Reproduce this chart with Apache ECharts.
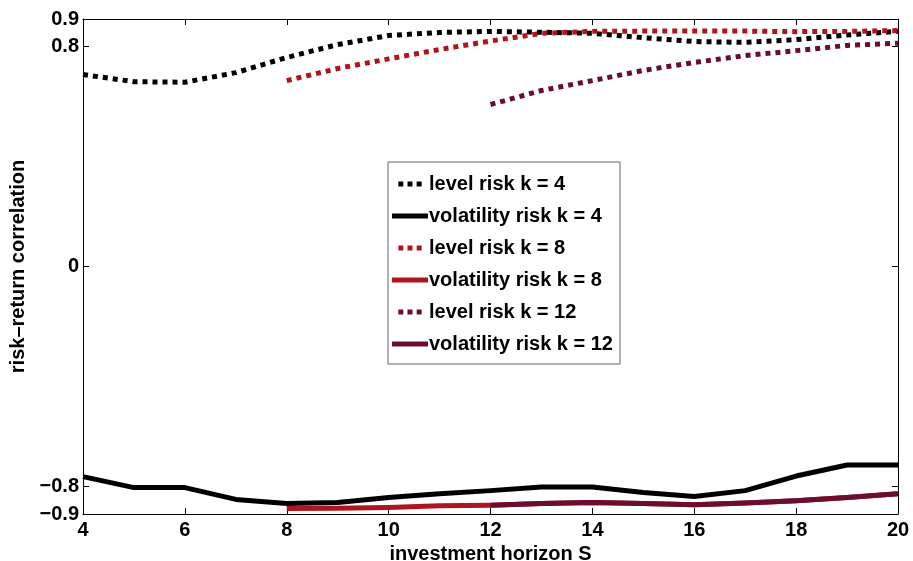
<!DOCTYPE html>
<html><head><meta charset="utf-8">
<script src="https://cdn.jsdelivr.net/npm/echarts@6/dist/echarts.min.js"></script>
<style>html,body{margin:0;padding:0;background:#fff}#c{width:913px;height:561px}</style>
</head><body><div id="c"></div>
<script>
var horizonAll = [4,5,6,7,8,9,10,11,12,13,14,15,16,17,18,19,20];
var horizonFrom8 = [8,9,10,11,12,13,14,15,16,17,18,19,20];
var horizonFrom12 = [12,13,14,15,16,17,18,19,20];
var levelK4 = [0.698,0.672,0.670,0.705,0.760,0.807,0.840,0.851,0.855,0.852,0.848,0.832,0.818,0.815,0.825,0.842,0.855];
var volK4 = [-0.764,-0.804,-0.804,-0.847,-0.862,-0.858,-0.840,-0.826,-0.815,-0.802,-0.802,-0.822,-0.836,-0.815,-0.762,-0.722,-0.722];
var levelK8 = [0.676,0.720,0.755,0.789,0.820,0.848,0.855,0.856,0.856,0.856,0.854,0.855,0.858];
var volK8 = [-0.880,-0.879,-0.876,-0.870,-0.868,-0.862,-0.858,-0.862,-0.866,-0.860,-0.852,-0.840,-0.826];
var levelK12 = [0.589,0.640,0.676,0.713,0.742,0.767,0.785,0.804,0.812];
var volK12 = [-0.868,-0.862,-0.858,-0.862,-0.866,-0.860,-0.852,-0.840,-0.826];
var xTicks = [4,6,8,10,12,14,16,18,20];
var yLabelVals = [-0.9,-0.8,0,0.8,0.9];
var yTickVals = [-0.8,0,0.8];
var names = ['level risk k = 4','volatility risk k = 4','level risk k = 8','volatility risk k = 8','level risk k = 12','volatility risk k = 12'];

function pairs(xs, ys){ return xs.map(function(x,i){ return [x, ys[i]]; }); }
var cBlack = '#000000', cRed = '#b0141e', cMaroon = '#6a0e2c';
var FONT = '"Liberation Sans", Arial, sans-serif';
var DOTS = 'path://M0 0h6v6h-6zM11 0h6v6h-6zM22 0h6v6h-6z';
function mk(name, xs, ys, color, dotted, z){
  return { name: name, type: 'line', data: pairs(xs, ys), showSymbol: false, symbol: 'none', z: z,
    lineStyle: { color: color, width: 5, type: dotted ? [5,5] : 'solid', cap: 'butt', join: 'round' },
    itemStyle: { color: color } };
}
var chart = echarts.init(document.getElementById('c'), null, {renderer:'canvas'});
var lbl = function(v){ return (v<0?'\u2212':'') + Math.abs(v).toString(); };
var axisTxt = { fontFamily: FONT, fontWeight: 'bold', fontSize: 20, color: '#000' };
chart.setOption({
  animation: false,
  backgroundColor: '#fff',
  grid: { left: 83, right: 15, top: 19, bottom: 47, show: false, containLabel: false, outerBoundsMode: 'none' },
  legend: {
    left: 388, top: 162, orient: 'vertical', backgroundColor: '#fff', borderColor: '#666', borderWidth: 1,
    padding: [12, 7, 10, 4], itemWidth: 36, itemHeight: 5, itemGap: 12,
    itemStyle: { borderWidth: 0 }, lineStyle: { width: 0 },
    textStyle: { fontFamily: FONT, fontWeight: 'bold', fontSize: 20, color: '#000', padding: [0,0,0,-4], height: 20, lineHeight: 20 },
    data: names.map(function(n, i){ return { name: n, icon: (i % 2 === 0) ? DOTS : 'rect' }; })
  },
  xAxis: [{
    type: 'value', min: 4, max: 20, interval: 2, position: 'bottom',
    name: 'investment horizon S', nameLocation: 'middle', nameGap: 22,
    nameTextStyle: axisTxt,
    axisLine: { show: true, onZero: false, lineStyle: { color: '#000', width: 1 } },
    axisTick: { show: true, inside: true, length: 6, lineStyle: { color: '#000' } },
    axisLabel: Object.assign({ margin: 6 }, axisTxt),
    splitLine: { show: false }
  },{
    type: 'value', min: 4, max: 20, interval: 2, position: 'top',
    axisLine: { show: true, onZero: false, lineStyle: { color: '#000', width: 1 } },
    axisTick: { show: true, inside: true, length: 6, lineStyle: { color: '#000' } },
    axisLabel: { show: false }, splitLine: { show: false }
  }],
  yAxis: [{
    type: 'value', min: -0.9, max: 0.9, position: 'left',
    name: 'risk\u2013return correlation', nameLocation: 'middle', nameGap: 54, nameRotate: 90,
    nameTextStyle: axisTxt,
    axisLine: { show: true, onZero: false, lineStyle: { color: '#000', width: 1 } },
    axisTick: { show: true, inside: true, length: 6, customValues: yTickVals, lineStyle: { color: '#000' } },
    axisLabel: Object.assign({ margin: 4, customValues: yLabelVals, formatter: lbl }, axisTxt),
    splitLine: { show: false }
  },{
    type: 'value', min: -0.9, max: 0.9, position: 'right',
    axisLine: { show: true, onZero: false, lineStyle: { color: '#000', width: 1 } },
    axisTick: { show: true, inside: true, length: 6, customValues: yTickVals, lineStyle: { color: '#000' } },
    axisLabel: { show: false }, splitLine: { show: false }
  }],
  series: [
    mk(names[0], horizonAll, levelK4, cBlack, true, 3),
    mk(names[1], horizonAll, volK4, cBlack, false, 3),
    mk(names[2], horizonFrom8, levelK8, cRed, true, 4),
    mk(names[3], horizonFrom8, volK8, cRed, false, 2),
    mk(names[4], horizonFrom12, levelK12, cMaroon, true, 2),
    mk(names[5], horizonFrom12, volK12, cMaroon, false, 3)
  ]
});
</script></body></html>
